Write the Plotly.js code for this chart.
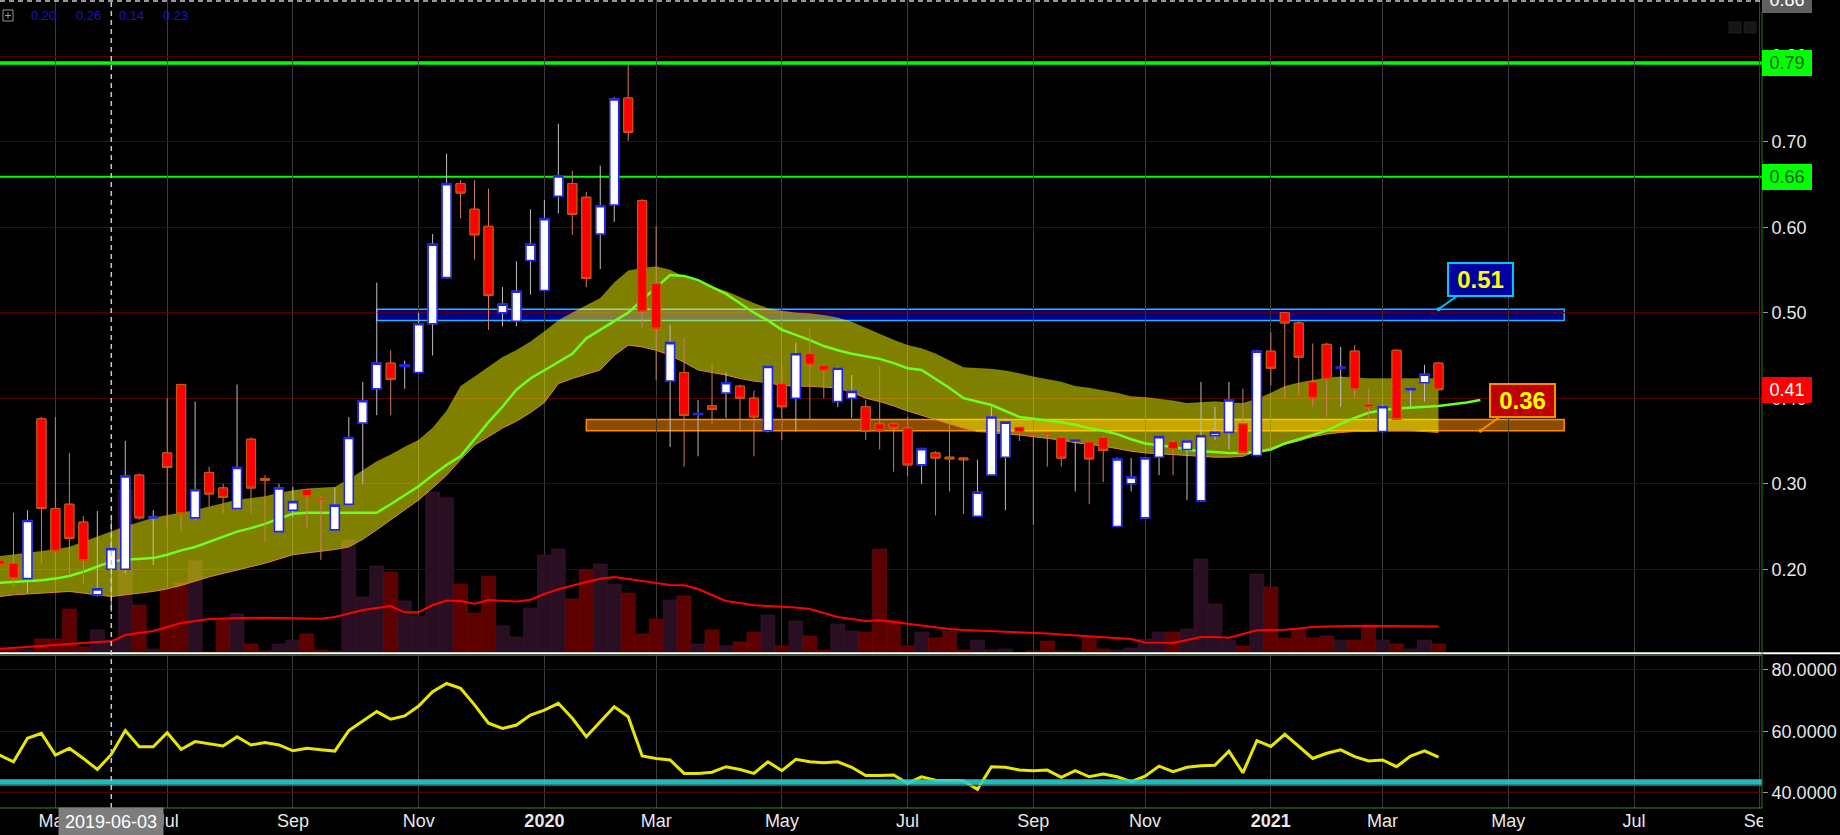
<!DOCTYPE html>
<html><head><meta charset="utf-8">
<script src="https://cdn.plot.ly/plotly-3.0.1.min.js"></script>
<style>html,body{margin:0;padding:0;background:#000;overflow:hidden}#chart{width:1840px;height:835px}</style>
</head><body><div id="chart"></div>
<script>
// ---------- DATA (weekly bars, first week 2019-04-08) ----------
const FIRST_WEEK = '2019-04-08';
const openP = [0.210,0.207,0.189,0.376,0.271,0.276,0.255,0.170,0.200,0.200,0.310,0.260,0.336,0.416,0.260,0.313,0.295,0.271,0.352,0.306,0.244,0.269,0.293,0.2825,0.246,0.276,0.371,0.411,0.441,0.437,0.430,0.487,0.541,0.651,0.621,0.601,0.500,0.490,0.561,0.526,0.636,0.651,0.635,0.592,0.626,0.751,0.631,0.534,0.420,0.430,0.381,0.391,0.406,0.414,0.400,0.362,0.417,0.400,0.452,0.438,0.396,0.400,0.390,0.370,0.370,0.365,0.322,0.336,0.331,0.330,0.262,0.310,0.331,0.366,0.359,0.3595,0.354,0.350,0.349,0.354,0.250,0.300,0.260,0.331,0.349,0.340,0.280,0.356,0.360,0.370,0.333,0.455,0.500,0.488,0.419,0.463,0.435,0.455,0.393,0.361,0.456,0.410,0.418,0.441];
const highP = [0.215,0.266,0.269,0.378,0.378,0.336,0.262,0.268,0.258,0.350,0.312,0.269,0.400,0.417,0.396,0.320,0.300,0.416,0.354,0.310,0.300,0.296,0.294,0.285,0.295,0.378,0.419,0.535,0.456,0.444,0.500,0.592,0.686,0.655,0.655,0.645,0.530,0.560,0.621,0.632,0.721,0.666,0.641,0.672,0.752,0.790,0.633,0.601,0.486,0.470,0.398,0.441,0.430,0.416,0.409,0.438,0.439,0.465,0.482,0.440,0.437,0.427,0.398,0.437,0.372,0.378,0.342,0.338,0.375,0.331,0.328,0.390,0.377,0.368,0.360,0.360,0.356,0.352,0.350,0.356,0.331,0.330,0.331,0.356,0.351,0.351,0.419,0.390,0.419,0.411,0.456,0.477,0.501,0.490,0.464,0.465,0.460,0.462,0.411,0.392,0.457,0.411,0.439,0.442];
const lowP = [0.195,0.180,0.172,0.207,0.195,0.193,0.182,0.168,0.150,0.195,0.258,0.205,0.246,0.244,0.258,0.273,0.265,0.270,0.265,0.232,0.243,0.261,0.248,0.211,0.245,0.275,0.300,0.380,0.380,0.411,0.429,0.450,0.540,0.610,0.562,0.480,0.484,0.484,0.521,0.525,0.616,0.591,0.530,0.551,0.606,0.701,0.482,0.421,0.343,0.320,0.332,0.369,0.377,0.361,0.332,0.360,0.351,0.361,0.375,0.400,0.390,0.377,0.351,0.340,0.314,0.309,0.300,0.263,0.291,0.265,0.261,0.309,0.269,0.350,0.252,0.320,0.320,0.291,0.276,0.302,0.249,0.291,0.259,0.310,0.310,0.281,0.279,0.351,0.340,0.335,0.332,0.415,0.400,0.404,0.390,0.378,0.390,0.400,0.375,0.360,0.374,0.390,0.396,0.409];
const closeP = [0.205,0.189,0.257,0.271,0.221,0.236,0.210,0.177,0.224,0.309,0.260,0.261,0.319,0.265,0.293,0.288,0.284,0.319,0.295,0.304,0.295,0.279,0.285,0.281,0.275,0.354,0.397,0.441,0.422,0.439,0.487,0.580,0.651,0.640,0.591,0.520,0.510,0.525,0.580,0.610,0.660,0.615,0.540,0.625,0.750,0.711,0.501,0.481,0.465,0.380,0.382,0.387,0.418,0.400,0.378,0.437,0.390,0.452,0.439,0.432,0.435,0.408,0.361,0.362,0.365,0.322,0.341,0.330,0.329,0.328,0.290,0.378,0.372,0.360,0.357,0.358,0.330,0.351,0.329,0.339,0.329,0.308,0.330,0.355,0.340,0.350,0.356,0.360,0.398,0.336,0.455,0.435,0.488,0.448,0.400,0.422,0.436,0.410,0.389,0.390,0.375,0.411,0.428,0.410];
const volume = [3,3,4,14,14,44,6,23,13,163,48,4,64,70,92,1,33,39,9,2,9,13,19,3,2,113,56,87,81,52,37,161,155,69,40,77,27,16,45,98,104,54,83,89,69,60,19,34,53,57,9,23,7,11,21,38,7,32,17,3,29,22,21,104,33,7,21,15,22,3,13,3,4,0.5,2,12,2,2,15,4,3,5,14,21,21,24,94,49,13,7,79,66,15,23,15,17,13,13,26,13,9,4,13,9];
const volumeMA = [4.3,5,6,7,8,9.3,10,11,11.7,18,20,22,26,30,32,34,34.5,35,35.3,35.3,35,35,34.5,34.3,36,39.3,43,45,47,40.7,40.7,48,52.5,52,49.3,53,52,51.5,53.3,59,63.7,67.5,71,74.3,76,74,72,69.3,68,67.7,64,58,52,50,47.7,47,46.3,45.5,44,40,36,34,32,32.7,31,29,28,26,24,23,22.5,22,21.5,21,20.5,19.5,18.5,17.5,16.5,16,15,14,10.5,10.3,10.3,13,16,16,15.3,19,22.7,23,23.3,24.5,26,26.5,27,27.2,27.3,27,26.8,26.7,26.7,26.5];
const bandUpper = [0.215,0.217,0.219,0.221,0.223,0.226,0.232,0.238,0.244,0.250,0.255,0.260,0.263,0.266,0.269,0.273,0.277,0.281,0.283,0.285,0.289,0.292,0.294,0.295,0.296,0.305,0.316,0.326,0.334,0.343,0.351,0.365,0.385,0.414,0.425,0.437,0.448,0.456,0.466,0.478,0.491,0.500,0.509,0.517,0.535,0.549,0.552,0.554,0.550,0.542,0.536,0.530,0.525,0.518,0.511,0.505,0.502,0.500,0.499,0.497,0.494,0.489,0.482,0.475,0.468,0.462,0.458,0.452,0.444,0.436,0.435,0.434,0.432,0.429,0.425,0.422,0.419,0.414,0.412,0.409,0.406,0.402,0.401,0.399,0.397,0.394,0.395,0.396,0.395,0.394,0.399,0.406,0.414,0.418,0.421,0.424,0.425,0.424,0.423,0.423,0.423,0.423,0.423,0.423];
const bandLower = [0.168,0.170,0.171,0.172,0.173,0.174,0.172,0.170,0.168,0.170,0.172,0.174,0.177,0.181,0.186,0.191,0.195,0.199,0.203,0.207,0.212,0.217,0.219,0.221,0.223,0.226,0.235,0.246,0.258,0.270,0.281,0.295,0.310,0.328,0.345,0.355,0.365,0.373,0.383,0.395,0.417,0.423,0.428,0.433,0.450,0.462,0.460,0.456,0.450,0.442,0.433,0.430,0.427,0.423,0.420,0.418,0.415,0.414,0.414,0.413,0.412,0.407,0.400,0.396,0.391,0.385,0.380,0.375,0.370,0.365,0.361,0.360,0.358,0.357,0.355,0.353,0.351,0.348,0.346,0.344,0.341,0.338,0.336,0.335,0.334,0.333,0.332,0.331,0.331,0.332,0.338,0.342,0.346,0.350,0.355,0.358,0.360,0.361,0.361,0.362,0.362,0.362,0.361,0.360];
const bandMid = [0.184,0.185,0.186,0.187,0.189,0.192,0.197,0.203,0.209,0.211,0.212,0.213,0.217,0.222,0.226,0.232,0.238,0.244,0.248,0.253,0.259,0.265,0.266,0.266,0.266,0.266,0.266,0.266,0.276,0.287,0.297,0.310,0.322,0.332,0.352,0.372,0.390,0.410,0.423,0.433,0.442,0.452,0.470,0.480,0.490,0.500,0.515,0.530,0.544,0.543,0.538,0.530,0.522,0.511,0.500,0.491,0.480,0.474,0.468,0.461,0.456,0.452,0.449,0.446,0.441,0.435,0.433,0.423,0.412,0.400,0.396,0.392,0.385,0.378,0.376,0.374,0.372,0.369,0.365,0.362,0.358,0.352,0.347,0.345,0.343,0.340,0.338,0.337,0.336,0.336,0.337,0.340,0.347,0.352,0.357,0.362,0.370,0.377,0.383,0.386,0.388,0.389,0.390,0.391,0.393,0.395,0.398];
const oscillator = [52.2,50.0,57.7,59.3,52.2,54.4,51.1,47.5,52.4,60.2,54.9,54.9,59.5,54.1,56.6,56.0,55.2,58.2,55.5,56.3,55.5,53.6,54.4,53.9,53.5,60.2,63.4,66.4,63.9,65.0,68.2,72.9,75.6,74.0,68.6,62.6,60.9,62.0,65.3,66.9,69.1,64.2,58.2,63.1,68.0,64.7,51.9,51.1,50.6,46.2,46.2,46.6,48.4,47.5,46.2,50.0,47.1,50.8,50.0,49.7,50.0,48.2,45.5,45.5,45.7,43.0,45.1,44.0,44.0,43.8,41.0,48.4,48.2,47.3,47.1,47.3,44.9,47.1,45.1,46.0,45.1,43.5,45.3,48.6,46.8,48.2,48.7,48.9,53.5,46.4,56.9,55.0,59.0,55.0,51.1,52.8,53.9,51.7,50.3,50.6,48.4,51.9,53.6,51.5];
const tickDates = ['2019-05-06','2019-07-01','2019-09-02','2019-11-04','2020-01-06','2020-03-02','2020-05-04','2020-07-06','2020-09-07','2020-11-02','2021-01-04','2021-03-01','2021-05-03','2021-07-05','2021-09-06'];
const tickLabels = ['May','Jul','Sep','Nov','<b>2020</b>','Mar','May','Jul','Sep','Nov','<b>2021</b>','Mar','May','Jul','Sep'];
const priceTicks = [0.2,0.3,0.4,0.5,0.6,0.7,0.8];
const oscTicks = [40,60,80];
const resistanceLevels = [0.792, 0.659];
const resistanceLabels = ['0.79','0.66'];
const zoneBlue = {from:'2019-10-14', to:'2021-05-31', lo:0.491, hi:0.504, label:'0.51', labelAt:'2021-03-29'};
const zoneOrange = {from:'2020-01-27', to:'2021-05-31', lo:0.362, hi:0.375, label:'0.36', labelAt:'2021-04-19'};
const lastPrice = 0.4096, lastLabel = '0.41';
const cursorDate = '2019-06-03', cursorLabel = '2019-06-03', cursorPriceLabel = '0.86';
const oscBandLo = 42.5, oscBandHi = 44.3, oscRedLine = 42.2;
const headerValues = ['0.20','0.26','0.14','0.23'];

// ---------- helpers ----------
function weeklyDates(first, n){
  const t0 = Date.parse(first + 'T00:00:00Z');
  return Array.from({length:n}, (_, k) => new Date(t0 + k*6048e5).toISOString().slice(0,10));
}
const dates = weeklyDates(FIRST_WEEK, openP.length);
const midDates = weeklyDates(FIRST_WEEK, bandMid.length);

const W = 1840, H = 835, MR = 78, MB = 27;
const plotW = W - MR, plotH = H - MB;
const priceDomain = [(plotH - 653) / plotH, 1];
const oscDomain = [0, (plotH - 655) / plotH];
const PR = [0.102, 0.8657];
const XR = ['2019-04-08 05:30', '2021-09-07 02:30'];
const py = p => priceDomain[0] + (p - PR[0]) / (PR[1] - PR[0]) * (priceDomain[1] - priceDomain[0]);
const pxY = y => (plotH - y) / plotH;
const pxX = x => x / plotW;

const up = closeP.map((c,i) => c >= openP[i]);
const volColors = up.map(u => u ? 'rgb(42,14,34)' : 'rgb(92,0,0)');
const volLine = up.map(u => u ? 'rgb(62,24,50)' : 'rgb(115,12,12)');

const traces = [
  {type:'bar', x:dates, y:volume, xaxis:'x', yaxis:'y', width:6048e5,
   marker:{color:volColors, line:{color:volLine, width:0.6}}, hoverinfo:'skip'},
  {type:'scatter', mode:'lines', x:dates, y:volumeMA, xaxis:'x', yaxis:'y',
   line:{color:'#ff0000', width:2}, hoverinfo:'skip'},
  {type:'scatter', mode:'lines', x:dates, y:bandLower, xaxis:'x', yaxis:'y3',
   line:{color:'rgb(215,135,60)', width:1}, hoverinfo:'skip'},
  {type:'scatter', mode:'lines', x:dates, y:bandUpper, xaxis:'x', yaxis:'y3', fill:'tonexty',
   fillcolor:'rgba(255,255,0,0.5)', line:{color:'rgba(255,255,0,0.3)', width:0.5}, hoverinfo:'skip'},
  {type:'scatter', mode:'lines', x:midDates, y:bandMid, xaxis:'x', yaxis:'y3',
   line:{color:'rgb(110,255,30)', width:2.5}, hoverinfo:'skip'},
  {type:'candlestick', x:dates, open:openP, high:highP, low:lowP, close:closeP, xaxis:'x', yaxis:'y4',
   increasing:{line:{color:'rgb(190,190,190)', width:1}, fillcolor:'rgba(0,0,0,0)'},
   decreasing:{line:{color:'rgb(205,125,100)', width:1}, fillcolor:'rgba(0,0,0,0)'},
   whiskerwidth:0, hoverinfo:'skip'},
  {type:'candlestick', x:dates, open:openP, close:closeP,
   high:openP.map((o,i)=>Math.max(o,closeP[i])), low:openP.map((o,i)=>Math.min(o,closeP[i])),
   xaxis:'x', yaxis:'y4',
   increasing:{line:{color:'rgb(35,35,235)', width:1.6}, fillcolor:'#ffffff'},
   decreasing:{line:{color:'rgb(200,90,0)', width:1}, fillcolor:'#ff0000'},
   whiskerwidth:0, hoverinfo:'skip'},
  {type:'scatter', mode:'lines', x:dates, y:oscillator, xaxis:'x', yaxis:'y2',
   line:{color:'rgb(230,230,0)', width:3}, hoverinfo:'skip'}
];

const gridRed = 'rgb(85,0,0)';
const tickFont = {family:'Liberation Sans, Arial, sans-serif', size:18, color:'rgb(232,232,232)'};

const shapes = [
  {type:'rect', xref:'x', yref:'y3', x0:zoneBlue.from, x1:zoneBlue.to, y0:zoneBlue.lo, y1:zoneBlue.hi,
   fillcolor:'rgb(0,0,140)', line:{color:'rgb(40,180,255)', width:1.5}, layer:'below'},
  {type:'rect', xref:'x', yref:'y3', x0:zoneOrange.from, x1:zoneOrange.to, y0:zoneOrange.lo, y1:zoneOrange.hi,
   fillcolor:'rgba(255,140,0,0.55)', line:{color:'rgb(255,140,0)', width:1.5}, layer:'below'},
  {type:'line', xref:'x', yref:'y3', x0:XR[0], x1:XR[1], y0:resistanceLevels[0], y1:resistanceLevels[0],
   line:{color:'#00ff00', width:3.5}, layer:'below'},
  {type:'line', xref:'x', yref:'y3', x0:XR[0], x1:XR[1], y0:resistanceLevels[1], y1:resistanceLevels[1],
   line:{color:'#00ff00', width:2}, layer:'below'},
  {type:'rect', xref:'x', yref:'y2', x0:XR[0], x1:XR[1], y0:oscBandLo, y1:oscBandHi,
   fillcolor:'rgba(40,205,205,0.9)', line:{width:0}, layer:'above'},
  {type:'line', xref:'x', yref:'y2', x0:XR[0], x1:XR[1], y0:oscRedLine, y1:oscRedLine,
   line:{color:'rgb(220,40,40)', width:1}, layer:'above'},
  {type:'line', xref:'paper', yref:'paper', x0:0, x1:W/plotW, y0:pxY(653.3), y1:pxY(653.3),
   line:{color:'#ffffff', width:2}, layer:'above'},
  {type:'line', xref:'paper', yref:'paper', x0:0, x1:1, y0:pxY(655.3), y1:pxY(655.3),
   line:{color:'rgb(40,140,40)', width:1}, layer:'above'},
  {type:'line', xref:'paper', yref:'paper', x0:0, x1:1, y0:pxY(808), y1:pxY(808),
   line:{color:'rgb(40,140,40)', width:1}, layer:'above'},
  {type:'line', xref:'paper', yref:'paper', x0:1, x1:1, y0:pxY(808), y1:pxY(13),
   line:{color:'rgb(40,120,40)', width:1}, layer:'above'},
  {type:'line', xref:'x', yref:'paper', x0:cursorDate, x1:cursorDate, y0:0, y1:1,
   line:{color:'rgb(200,200,200)', width:1.5, dash:'5px,4px'}, layer:'above'},
  {type:'line', xref:'paper', yref:'paper', x0:0, x1:1, y0:pxY(1), y1:pxY(1),
   line:{color:'rgb(200,200,200)', width:1.5, dash:'5px,4px'}, layer:'above'},
  {type:'rect', xref:'paper', yref:'paper', x0:pxX(1763), x1:W/plotW, y0:pxY(809), y1:pxY(835),
   fillcolor:'#000000', line:{width:0}, layer:'above'},
  {type:'rect', xref:'paper', yref:'paper', x0:pxX(3), x1:pxX(13), y0:pxY(21), y1:pxY(10),
   fillcolor:'rgba(0,0,0,0)', line:{color:'rgb(150,150,150)', width:1}, layer:'above'},
  {type:'line', xref:'paper', yref:'paper', x0:pxX(5), x1:pxX(11), y0:pxY(15.5), y1:pxY(15.5),
   line:{color:'rgb(150,150,150)', width:1}, layer:'above'},
  {type:'line', xref:'paper', yref:'paper', x0:pxX(8), x1:pxX(8), y0:pxY(12.5), y1:pxY(18.5),
   line:{color:'rgb(150,150,150)', width:1}, layer:'above'},
  {type:'rect', xref:'paper', yref:'paper', x0:pxX(1729), x1:pxX(1741), y0:pxY(33), y1:pxY(22),
   fillcolor:'rgb(22,22,22)', line:{color:'rgb(30,30,30)', width:1}, layer:'above'},
  {type:'rect', xref:'paper', yref:'paper', x0:pxX(1744), x1:pxX(1756), y0:pxY(33), y1:pxY(22),
   fillcolor:'rgb(22,22,22)', line:{color:'rgb(30,30,30)', width:1}, layer:'above'}
];

function sideLabel(text, yPaper, bg, fg){
  return {xref:'paper', yref:'paper', x:1, xanchor:'left', y:yPaper, yanchor:'middle', text:text,
    showarrow:false, bgcolor:bg, width:50, height:26, borderpad:0, borderwidth:0,
    font:{family:'Liberation Sans, Arial, sans-serif', size:18, color:fg}};
}
function callout(z, bg, border){
  return {xref:'x', yref:'y3', x:z.labelAt, y:(z === zoneBlue ? z.hi : z.lo), ax:42, ay:-30,
    text:'<b>' + z.label + '</b>', showarrow:true, arrowhead:6, arrowsize:0.5, arrowwidth:2,
    arrowcolor:border, standoff:0, bgcolor:bg, bordercolor:border, borderwidth:2, borderpad:1,
    width:61, height:29, font:{family:'Liberation Sans, Arial, sans-serif', size:24, color:'#ffff00'}};
}
const headerX = [43.5, 88, 131.5, 175.5];
const annotations = [
  sideLabel(cursorPriceLabel, pxY(0.3), 'rgb(95,95,95)', '#ffffff'),
  sideLabel(resistanceLabels[0], py(resistanceLevels[0]), '#00ff00', 'rgb(20,95,20)'),
  sideLabel(resistanceLabels[1], py(resistanceLevels[1]), '#00ff00', 'rgb(20,95,20)'),
  sideLabel(lastLabel, py(lastPrice), '#ff0000', '#ffffff'),
  callout(zoneBlue, 'rgb(0,0,160)', 'rgb(0,200,255)'),
  callout(zoneOrange, 'rgb(190,0,0)', 'rgb(255,140,0)'),
  {xref:'paper', yref:'paper', x:pxX(111), y:pxY(821.5), xanchor:'center', yanchor:'middle',
   text:cursorLabel, showarrow:false, bgcolor:'rgb(125,125,125)', width:104, height:27, borderpad:0,
   font:{family:'Liberation Sans, Arial, sans-serif', size:18, color:'#ffffff'}}
].concat(headerValues.map((t,k) => ({xref:'paper', yref:'paper', x:pxX(headerX[k]), y:pxY(15.3),
   xanchor:'center', yanchor:'middle', text:t, showarrow:false,
   font:{family:'Liberation Sans, Arial, sans-serif', size:13, color:'rgb(20,20,205)'}})));

const layout = {
  width:W, height:H, margin:{l:0, r:MR, t:0, b:MB, pad:0},
  paper_bgcolor:'#000000', plot_bgcolor:'#000000', showlegend:false, hovermode:false,
  font:{family:'Liberation Sans, Arial, sans-serif', color:'rgb(232,232,232)'},
  boxgap:0.356, boxgroupgap:0, bargap:0,
  xaxis:{type:'date', range:XR, anchor:'y2', domain:[0,1], tickvals:tickDates, ticktext:tickLabels,
    showgrid:true, gridcolor:'rgb(58,58,58)', gridwidth:1, ticks:'', showline:false, zeroline:false,
    tickfont:tickFont, rangeslider:{visible:false}, fixedrange:true},
  yaxis:{domain:priceDomain, range:[0,653], visible:false, showgrid:false, fixedrange:true},
  yaxis3:{overlaying:'y', side:'right', anchor:'x', range:PR, tickvals:priceTicks, tickformat:'.2f',
    showgrid:true, gridcolor:gridRed, gridwidth:1, zeroline:false, showline:false,
    ticks:'outside', ticklen:5, tickcolor:'rgb(150,150,150)', tickfont:tickFont, fixedrange:true},
  yaxis4:{overlaying:'y', side:'right', anchor:'x', range:PR, visible:false, showgrid:false,
    zeroline:false, fixedrange:true},
  yaxis2:{domain:oscDomain, side:'right', anchor:'x', range:[34.9,84.9], tickvals:oscTicks, tickformat:'.4f',
    showgrid:true, gridcolor:gridRed, gridwidth:1, zeroline:false, showline:false,
    ticks:'outside', ticklen:5, tickcolor:'rgb(150,150,150)', tickfont:tickFont, fixedrange:true},
  shapes:shapes, annotations:annotations
};
Plotly.newPlot('chart', traces, layout, {displayModeBar:false, staticPlot:true});
</script></body></html>
